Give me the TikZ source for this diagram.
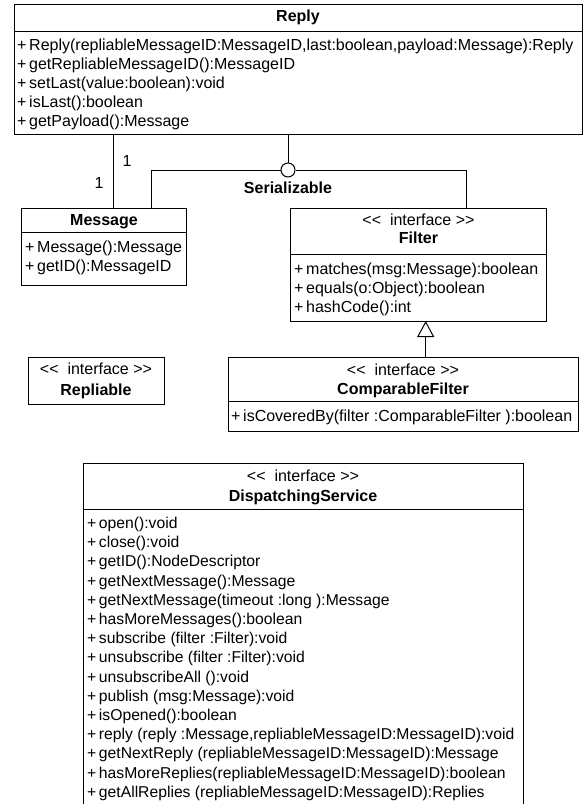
\documentclass[tikz,border=0pt]{standalone}
\usepackage{fontspec}
\setmainfont{Liberation Sans}
\usetikzlibrary{arrows.meta}
\newcommand{\mfont}{\fontsize{16}{18}\selectfont}
\newcommand{\dfont}{\fontsize{15.7}{18}\selectfont}
\newcommand{\ifc}{<\kern0pt<\ \ interface >\kern0pt>}
\tikzset{
  umlbox/.style={draw=black, line width=1pt, anchor=north west, inner sep=0pt, outer sep=0pt},
  member/.style={anchor=base west, inner sep=0pt, font=\mfont},
  dsmember/.style={anchor=base west, inner sep=0pt, font=\dfont},
  clsname/.style={anchor=base, inner sep=0pt, font=\mfont\bfseries},
  stereo/.style={anchor=base, inner sep=0pt, font=\mfont},
  divider/.style={draw=black, line width=1pt},
  conn/.style={draw=black, line width=1pt},
  mult/.style={anchor=base, inner sep=0pt, font=\mfont},
}
\begin{document}
\begin{tikzpicture}[x=1pt, y=-1pt]
\useasboundingbox (0,0) rectangle (585,804);
\clip (0,0) rectangle (585,804);

% ---------- Reply ----------
\node[umlbox, minimum width=568pt, minimum height=130pt] (reply) at (14,4) {};
\node[clsname] (replyT) at (298,21) {Reply};
\draw[divider] (14,31) -- (582,31);
\node[member] (r1) at (17,50) {+\,Reply(repliableMessageID:MessageID,last:boolean,payload:Message):Reply};
\node[member] (r2) at (17,69) {+\,getRepliableMessageID():MessageID};
\node[member] (r3) at (17,88) {+\,setLast(value:boolean):void};
\node[member] (r4) at (17,107) {+\,isLast():boolean};
\node[member] (r5) at (17,126) {+\,getPayload():Message};

% ---------- Message ----------
\node[umlbox, minimum width=165pt, minimum height=77pt] (message) at (21.5,208) {};
\node[clsname] (messageT) at (104,225) {Message};
\draw[divider] (21.5,232) -- (186.5,232);
\node[member] (m1) at (25,252) {+\,Message():Message};
\node[member] (m2) at (25,271) {+\,getID():MessageID};

% ---------- Filter ----------
\node[umlbox, minimum width=256pt, minimum height=113pt] (filter) at (290.5,208) {};
\node[stereo] (filterS) at (418.5,225) {\ifc};
\node[clsname] (filterT) at (418.5,243) {Filter};
\draw[divider] (290.5,254) -- (546.5,254);
\node[member] (f1) at (294,274) {+\,matches(msg:Message):boolean};
\node[member] (f2) at (294,293) {+\,equals(o:Object):boolean};
\node[member] (f3) at (294,312) {+\,hashCode():int};

% ---------- Repliable ----------
\node[umlbox, minimum width=136pt, minimum height=47pt] (repliable) at (28,357) {};
\node[stereo] (repliableS) at (96,374) {\ifc};
\node[clsname] (repliableT) at (96,395) {Repliable};

% ---------- ComparableFilter ----------
\node[umlbox, minimum width=350pt, minimum height=74pt] (cfilter) at (228,357) {};
\node[stereo] (cfilterS) at (403,375) {\ifc};
\node[clsname] (cfilterT) at (403,394) {ComparableFilter};
\draw[divider] (228,401) -- (578,401);
\node[member] (c1) at (231,421) {+\,isCoveredBy(filter :ComparableFilter ):boolean};

% ---------- DispatchingService ----------
\node[umlbox, minimum width=440pt, minimum height=350pt] (ds) at (83,463) {};
\node[stereo] (dsS) at (303,481) {\ifc};
\node[clsname] (dsT) at (303,501) {DispatchingService};
\draw[divider] (83,509) -- (523,509);
\node[dsmember] (d1)  at (87,528.5) {+\,open():void};
\node[dsmember] (d2)  at (87,547.7) {+\,close():void};
\node[dsmember] (d3)  at (87,566.9) {+\,getID():NodeDescriptor};
\node[dsmember] (d4)  at (87,586.1) {+\,getNextMessage():Message};
\node[dsmember] (d5)  at (87,605.3) {+\,getNextMessage(timeout :long ):Message};
\node[dsmember] (d6)  at (87,624.5) {+\,hasMoreMessages():boolean};
\node[dsmember] (d7)  at (87,643.7) {+\,subscribe (filter :Filter):void};
\node[dsmember] (d8)  at (87,662.9) {+\,unsubscribe (filter :Filter):void};
\node[dsmember] (d9)  at (87,682.1) {+\,unsubscribeAll ():void};
\node[dsmember] (d10) at (87,701.3) {+\,publish (msg:Message):void};
\node[dsmember] (d11) at (87,720.5) {+\,isOpened():boolean};
\node[dsmember] (d12) at (87,739.7) {+\,reply (reply :Message,repliableMessageID:MessageID):void};
\node[dsmember] (d13) at (87,758.9) {+\,getNextReply (repliableMessageID:MessageID):Message};
\node[dsmember] (d14) at (87,778.1) {+\,hasMoreReplies(repliableMessageID:MessageID):boolean};
\node[dsmember] (d15) at (87,797.3) {+\,getAllReplies (repliableMessageID:MessageID):Replies};

% ---------- Connectors ----------
\coordinate (ra) at (113,134);
\coordinate (ma) at (113,208);
\draw[conn] (ra) -- (ma);
\node[mult] (mult1) at (127,166) {1};
\node[mult] (mult2) at (99,188) {1};

\node[draw=black, line width=1pt, circle, minimum size=14pt, inner sep=0pt] (ser) at (288,170) {};
\node[clsname] (serT) at (288,193) {Serializable};
\coordinate (rs) at (288,134);
\draw[conn] (rs) -- (ser.north);
\coordinate (mser) at (151,208);
\coordinate (fser) at (466.5,208);
\draw[conn] (ser.west) -| (mser);
\draw[conn] (ser.east) -| (fser);

\coordinate (cfg) at (425.7,357);
\coordinate (fg) at (425.7,321);
\draw[conn, -{Triangle[open, length=16pt, width=17pt, fill=white]}] (cfg) -- (fg);
\end{tikzpicture}
\end{document}
